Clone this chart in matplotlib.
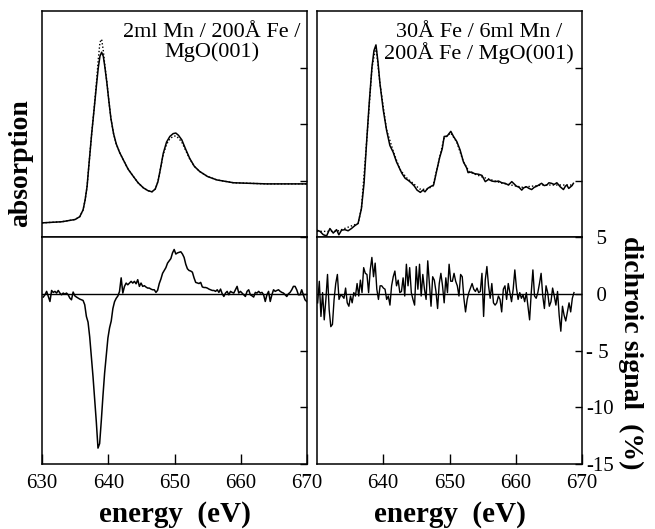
import numpy as np
import matplotlib
matplotlib.use("Agg")
import matplotlib.pyplot as plt

plt.rcParams['font.family'] = ['Liberation Serif', 'DejaVu Serif']

# --- absorption spectra (top panels) ---
tl_energy = [630.0, 631.5, 633.0, 634.0, 635.0, 635.7, 636.2, 636.5, 636.8, 637.1,
             637.5, 637.9, 638.25, 638.5, 638.75, 639.0, 639.25, 639.5, 639.8, 640.1,
             640.4, 640.8, 641.2, 641.7, 642.3, 643.0, 643.8, 644.5, 645.3, 646.0,
             646.6, 647.1, 647.5, 647.9, 648.3, 648.8, 649.3, 649.8, 650.2, 650.6,
             651.1, 651.7, 652.3, 653.0, 653.8, 655.0, 656.4, 658.9, 663.9, 670.0]
tl_solid = [0.25, 0.26, 0.27, 0.29, 0.31, 0.36, 0.48, 0.65, 0.89, 1.30,
            1.83, 2.30, 2.72, 3.00, 3.20, 3.27, 3.20, 3.00, 2.72, 2.40,
            2.10, 1.83, 1.65, 1.50, 1.36, 1.20, 1.07, 0.96, 0.87, 0.82,
            0.80, 0.85, 0.98, 1.22, 1.48, 1.68, 1.78, 1.83, 1.84, 1.80,
            1.72, 1.55, 1.39, 1.25, 1.16, 1.07, 1.01, 0.96, 0.94, 0.94]
tl_dotted = [0.25, 0.26, 0.27, 0.29, 0.31, 0.36, 0.48, 0.65, 0.89, 1.30,
             1.83, 2.32, 2.78, 3.15, 3.45, 3.50, 3.30, 3.02, 2.74, 2.40,
             2.10, 1.83, 1.65, 1.50, 1.36, 1.20, 1.07, 0.96, 0.87, 0.82,
             0.80, 0.85, 0.98, 1.22, 1.46, 1.64, 1.74, 1.78, 1.79, 1.75,
             1.68, 1.53, 1.38, 1.25, 1.16, 1.07, 1.01, 0.96, 0.94, 0.94]

tr_energy = [630.0, 630.45, 630.95, 631.45, 631.95, 632.45, 632.95, 633.3, 633.7, 634.2,
             634.7, 635.2, 635.7, 636.2, 636.7, 637.1, 637.5, 637.9, 638.3, 638.6,
             638.9, 639.2, 639.5, 640.0, 640.5, 641.0, 641.5, 642.0, 642.8, 643.3,
             643.8, 644.3, 644.7, 645.1, 645.6, 646.0, 646.3, 646.7, 647.1, 647.6,
             648.1, 648.5, 648.9, 649.2, 649.6, 650.2, 650.6, 651.1, 651.6, 652.1,
             652.6, 652.8, 653.3, 653.8, 654.4, 654.9, 655.4, 655.9, 656.4, 656.9,
             657.4, 657.9, 658.4, 658.9, 659.4, 660.1, 660.5, 660.9, 661.2, 661.6,
             662.0, 662.4, 662.8, 663.2, 663.6, 663.9, 664.3, 664.7, 665.0, 665.4,
             665.8, 666.2, 666.5, 666.7, 667.0, 667.2, 667.5, 667.7, 668.0, 668.2,
             668.5, 668.7]
tr_solid = [0.12, 0.10, 0.04, 0.02, 0.15, 0.07, 0.13, 0.04, 0.12, 0.13,
            0.11, 0.15, 0.20, 0.24, 0.50, 0.95, 1.70, 2.40, 3.01, 3.30,
            3.40, 3.10, 2.72, 2.25, 1.89, 1.62, 1.50, 1.33, 1.13, 1.04,
            1.00, 0.95, 0.90, 0.83, 0.79, 0.83, 0.80, 0.86, 0.89, 0.92,
            1.19, 1.40, 1.56, 1.78, 1.78, 1.87, 1.78, 1.69, 1.54, 1.33,
            1.22, 1.14, 1.15, 1.12, 1.11, 1.09, 0.98, 1.02, 0.99, 0.98,
            0.99, 0.96, 0.95, 0.92, 0.98, 0.90, 0.88, 0.83, 0.87, 0.89,
            0.86, 0.84, 0.88, 0.90, 0.93, 0.95, 0.91, 0.92, 0.96, 0.95,
            0.93, 0.96, 0.92, 0.89, 0.86, 0.84, 0.90, 0.92, 0.86, 0.88,
            0.91, 0.95]
tr_dot_energy = [630, 633, 636.2, 636.7, 637.5, 638.3, 638.9, 639.5, 640.5, 641.5,
                 642.5, 643.5, 644.5, 645.5, 646.5, 647.5, 648.3, 649.2, 650.2, 651.1,
                 652.1, 653.0, 655, 658, 661, 664, 668.7]
tr_dotted = [0.10, 0.10, 0.24, 0.50, 1.70, 3.00, 3.38, 2.72, 1.90, 1.52,
             1.20, 1.05, 0.95, 0.85, 0.84, 0.90, 1.30, 1.76, 1.84, 1.68,
             1.33, 1.15, 1.06, 0.95, 0.88, 0.92, 0.92]

# --- dichroic signal (%) (bottom panels), equally spaced energies ---
bl_start, bl_step = 630.2, 0.25
bl_signal = [-0.29, -0.09, 0.21, -0.24, -0.68, 0.29, 0.12, 0.21, 0.06, 0.29,
             0.06, -0.09, 0.06, -0.03, 0.06, -0.09, -0.38, -0.53, 0.15, -0.18,
             -0.29, -0.38, -0.47, -0.53, -0.59, -0.97,
             -2.0, -2.5, -3.8, -5.5, -7.3, -9.3, -11.3, -13.6, -13.2, -11.2,
             -9.0, -7.0, -5.4, -3.9, -3.0, -2.4, -1.3, -0.7, -0.4, -0.2,
             0.2, 1.4,
             0.06, 0.65, 0.94, 0.79, 0.94, 1.09, 0.94, 1.09, 0.88, 1.24,
             0.65, 0.94, 0.65, 0.71, 0.59, 0.5, 0.5, 0.41, 0.35, 0.35,
             0.12, 0.3, 0.9, 1.3, 1.8, 2.05, 2.3, 2.7, 2.9, 3.1,
             3.6, 3.9, 3.5, 3.6, 3.65, 3.7, 3.5, 3.2, 2.6, 2.2,
             2.05, 2.0, 1.9, 1.4, 1.0, 0.95, 0.9, 1.0, 0.6, 0.55,
             0.55,
             0.5, 0.41, 0.35, 0.29, 0.29, 0.21, 0.35, 0.12, 0.41, 0.0,
             -0.24, 0.06, 0.21, -0.09, 0.21, 0.12, 0.06, 0.35, 0.65, 0.06,
             0.21, 0.06, -0.09, -0.24, 0.21, 0.35, -0.09, -0.18, -0.29, 0.12,
             0.06, 0.21, 0.06, 0.12, -0.09, -0.68, -0.09, 0.21, -0.68, -0.09,
             0.35, 0.21, 0.29, 0.35, 0.21, 0.12, 0.06, -0.09, -0.24, 0.0,
             0.12, 0.35, 0.65, 0.65, 0.35, -0.09, -0.09, 0.35, -0.09, -0.53,
             -0.68]

br_start, br_step = 630.1, 0.248
br_signal = [-0.8, 1.1, -2.0, 0.1, -2.3, -0.5, 1.7, -1.4, -2.9, -2.7,
             -0.5, 0.9, 1.7, -0.5, -0.1, -0.2, -0.4, 0.5, -0.8, -1.1,
             -0.2, -0.8, 0.1, -0.2, 0.9, -0.2, 1.2, 0.1, 2.3, 1.8,
             1.7, 0.1, 2.1, 3.2, 1.5, 2.7, 0.4, -0.5, 0.7, 0.7,
             0.5, 0.4, -0.5, -0.2, -1.0, 0.7, 1.5, 2.0, 0.7, 1.2,
             0.1, 0.2, 1.4, -0.2, 2.6, 0.7, 2.3, 0.1, -0.5, -1.0,
             2.4, 0.4, 2.6, -0.2, 1.7, 0.4, -0.5, 2.9, 0.9, -1.1,
             1.5, 1.2, 0.2, -1.3, 0.9, 1.8, 0.7, -0.8, 1.4, 0.1,
             2.6, 1.1, 1.1, 1.8, 1.1, 0.7, -0.2, 1.7, 1.5, -0.4,
             -1.6, -0.5, 0.1, 0.5, 0.9, 0.4, 0.2, 0.5, 0.1, 0.2,
             1.8, -2.0, 1.2, 2.4, 0.7, -0.4, 0.9, -0.8, -1.0, -0.8,
             -0.2, -0.5, -1.6, 0.4, 0.7, -0.5, 0.9, 0.1, -0.7, 0.4,
             2.1, 0.5, -0.5, 0.1, -0.4, -0.1, -0.7, 0.1, -1.1, -2.3,
             0.1, 2.1, -0.2, -0.4, 0.1, 0.9, 1.8, -0.2, -1.3, 0.7,
             0.1, -1.1, -0.7, 0.5, -0.2, -1.0, 0.2, -1.9, -3.3, -1.1,
             -1.9, -2.4, -1.6, -0.8, -1.6, -0.4, 0.1]

bl_energy = bl_start + bl_step * np.arange(len(bl_signal))
br_energy = br_start + br_step * np.arange(len(br_signal))

W, H = 655, 529
fig = plt.figure(figsize=(W / 100, H / 100), dpi=100)


def px_axes(x0, y0, x1, y1):
    return fig.add_axes([x0 / W, 1 - y1 / H, (x1 - x0) / W, (y1 - y0) / H])


ax_tl = px_axes(42, 11, 307, 237)
ax_tr = px_axes(317, 11, 582, 237)
ax_bl = px_axes(42, 237, 307, 464)
ax_br = px_axes(317, 237, 582, 464)

for ax in (ax_tl, ax_tr, ax_bl, ax_br):
    for s in ax.spines.values():
        s.set_linewidth(1.1)
    ax.set_xlim(630, 670)

# top panels
for ax in (ax_tl, ax_tr):
    ax.set_ylim(0, 4)
    ax.set_xticks([])
    ax.set_yticks([1, 2, 3])
    ax.tick_params(axis='y', direction='in', left=False, right=True,
                   labelleft=False, labelright=False, length=5, width=1)

ax_tl.plot(tl_energy, tl_dotted, color='black', lw=1.0, ls=(0, (1, 1.5)))
ax_tl.plot(tl_energy, tl_solid, color='black', lw=1.1)
ax_tr.plot(tr_dot_energy, tr_dotted, color='black', lw=1.0, ls=(0, (1, 1.5)))
ax_tr.plot(tr_energy, tr_solid, color='black', lw=1.1)

ax_tl.text(0.64, 0.945, "2ml Mn / 200Å Fe /\nMgO(001)", transform=ax_tl.transAxes,
           ha='center', va='top', fontsize=16, linespacing=1.0)
ax_tr.text(0.61, 0.945, "30Å Fe / 6ml Mn /\n200Å Fe / MgO(001)", transform=ax_tr.transAxes,
           ha='center', va='top', fontsize=16, linespacing=1.0)

# bottom panels
for ax in (ax_bl, ax_br):
    ax.set_ylim(-15, 5)
    ax.axhline(0, color='black', lw=1.0)
    ax.set_yticks([-15, -10, -5, 0, 5])
    ax.tick_params(axis='y', direction='in', left=False, right=True,
                   labelleft=False, labelright=False, length=5, width=1)
    ax.tick_params(axis='x', direction='in', top=False, length=7, width=1,
                   labelsize=15, pad=7)
    ax.set_xlabel("energy  (eV)", fontsize=21, fontweight='bold', labelpad=6)

ax_bl.plot(bl_energy, bl_signal, color='black', lw=1.1)
ax_br.plot(br_energy, br_signal, color='black', lw=1.0)

ax_bl.set_xticks([630, 640, 650, 660, 670])
ax_br.set_xticks([640, 650, 660, 670])

ax_br.set_yticklabels(["-15", "-10", "- 5", "  0", "  5"])
ax_br.tick_params(axis='y', labelright=True, labelsize=15, pad=3)

fig.text(21 / W, 1 - 163 / H, "absorption", rotation=90, ha='center', va='center',
         fontsize=20, fontweight='bold')
fig.text(631 / W, 1 - 353 / H, "dichroic signal  (%)", rotation=-90, ha='center',
         va='center', fontsize=20, fontweight='bold')

fig.savefig("out.png", dpi=100)
